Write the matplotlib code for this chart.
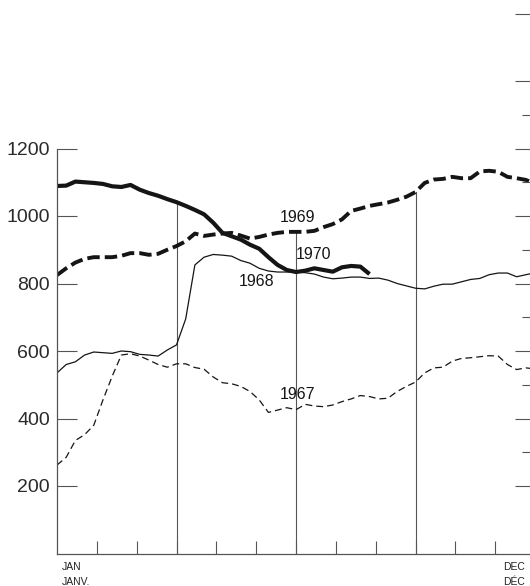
import numpy as np
import matplotlib
matplotlib.use("Agg")
import matplotlib.pyplot as plt

plt.rcParams['font.family'] = ['Liberation Sans', 'DejaVu Sans']

# weekly values (week 0 = start of January)
v1967 = [262, 285, 335, 352, 380, 455, 525, 588, 592, 585, 573, 560, 552, 562,
         562, 551, 546, 523, 506, 503, 495, 480, 455, 418, 425, 432, 426, 442,
         437, 435, 440, 450, 458, 468, 465, 458, 460, 480, 495, 508, 535, 550,
         552, 570, 578, 580, 583, 586, 585, 560, 545, 550, 547]
v1968 = [535, 560, 568, 588, 597, 595, 593, 600, 598, 590, 588, 585, 603, 618,
         695, 855, 878, 886, 884, 881, 868, 860, 845, 837, 834, 834, 834, 832,
         828, 819, 814, 816, 819, 819, 815, 816, 810, 800, 793, 786, 784, 792,
         798, 798, 805, 812, 815, 826, 831, 831, 820, 826, 832]
v1969 = [825, 845, 862, 873, 878, 878, 878, 882, 890, 890, 885, 888, 900, 911,
         925, 948, 941, 945, 948, 950, 942, 933, 938, 945, 950, 953, 953, 953,
         956, 967, 976, 990, 1015, 1022, 1030, 1035, 1040, 1048, 1057, 1071,
         1098, 1108, 1110, 1116, 1112, 1112, 1132, 1134, 1131, 1116, 1112, 1107,
         1095]
v1970 = [1089, 1090, 1102, 1100, 1098, 1095, 1088, 1086, 1092, 1078, 1068, 1060,
         1050, 1041, 1030, 1018, 1005, 980, 950, 940, 930, 915, 903, 878, 855,
         840, 834, 838, 845, 840, 835, 848, 852, 850, 828]

year_labels = ["1967", "1968", "1969", "1970"]
label_pos = [(6.03, 470), (5.02, 807), (6.03, 997), (6.45, 887)]
y_ticks = [200, 400, 600, 800, 1000, 1200]
right_major = [200, 400, 600, 800, 1000, 1200, 1400, 1600]
right_minor = [300, 500, 700, 900, 1100, 1300]
quarter_lines = [3, 6, 9]

weeks = lambda n: np.arange(n) * 12 / 52

ink = '#151515'
axis_col = '#555555'

fig = plt.figure(figsize=(5.30, 5.86), dpi=100)
# 0.3375 px per unit, ylim up to 1640 so the 1600 tick is not on the edge
ax = fig.add_axes([57 / 530, 32.5 / 586, 478 / 530, 1640 * 0.3375 / 586])
ax.set_xlim(0, 12)
ax.set_ylim(0, 1640)

ax.plot(weeks(len(v1967)), v1967, color=ink, lw=0.9, dashes=(5.5, 3.2))
ax.plot(weeks(len(v1968)), v1968, color=ink, lw=0.9)
ax.plot(weeks(len(v1969)), v1969, color=ink, lw=2.8, dashes=(3.2, 1.3),
        dash_capstyle='butt')
ax.plot(weeks(len(v1970)), v1970, color=ink, lw=3.0, solid_joinstyle='round',
        solid_capstyle='butt')

# quarter lines run up to the highest curve
for q in quarter_lines:
    top = max(np.interp(q, weeks(len(s)), s) for s in (v1967, v1968, v1969, v1970)
              if weeks(len(s))[-1] >= q)
    ax.plot([q, q], [0, top], color=axis_col, lw=0.8, zorder=1)

for txt, (x, y) in zip(year_labels, label_pos):
    ax.text(x, y, txt, ha='center', va='center', fontsize=11.5, color=ink)

for s in ['top', 'right']:
    ax.spines[s].set_visible(False)
ax.spines['left'].set_bounds(0, 1200)
for s in ['left', 'bottom']:
    ax.spines[s].set_color(axis_col)
    ax.spines[s].set_linewidth(0.9)

ax.set_yticks(y_ticks)
ax.set_yticklabels([str(t) for t in y_ticks])
ax.tick_params(axis='y', direction='in', length=14.4, width=0.8, color=axis_col,
               labelsize=14, pad=5, labelcolor='#2a2a2a')
ax.set_xticks(range(1, 12))
ax.set_xticklabels([])
ax.tick_params(axis='x', direction='in', length=9.4, width=0.8, color=axis_col)

# right-hand scale ticks
ax2 = ax.twinx()
ax2.set_ylim(0, 1640)
for s in ax2.spines.values():
    s.set_visible(False)
ax2.set_yticks(right_major)
ax2.set_yticks(right_minor, minor=True)
ax2.tick_params(axis='y', which='major', direction='in', length=14.4, width=0.8,
                color=axis_col, labelright=False)
ax2.tick_params(axis='y', which='minor', direction='in', length=9.4, width=0.8,
                color=axis_col)

# month labels
for x, l1, l2 in [(0.13, "JAN", "JANV."), (11.2, "DEC", "DÉC")]:
    ax.annotate(l1, xy=(x, 0), xycoords=('data', 'axes fraction'), xytext=(0, -6),
                textcoords='offset points', ha='left', va='top', fontsize=7.5,
                color='#222222')
    ax.annotate(l2, xy=(x, 0), xycoords=('data', 'axes fraction'), xytext=(0, -17),
                textcoords='offset points', ha='left', va='top', fontsize=7.5,
                color='#222222')

fig.savefig("out.png", dpi=100)
